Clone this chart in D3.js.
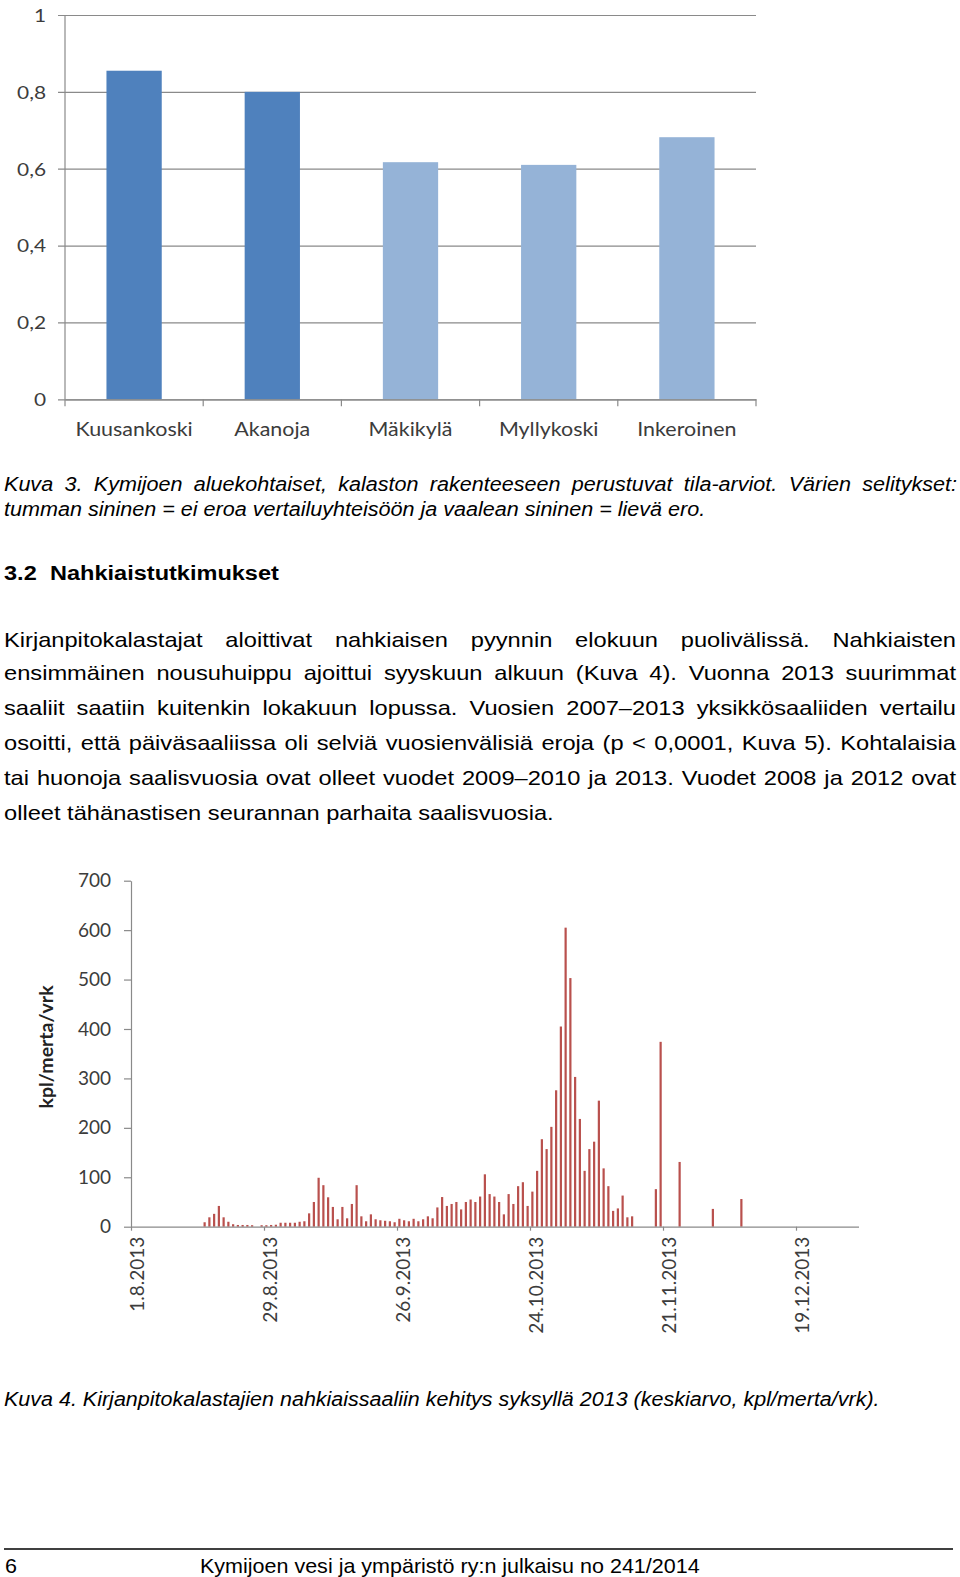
<!DOCTYPE html>
<html>
<head>
<meta charset="utf-8">
<script src="https://cdn.jsdelivr.net/npm/d3@7"></script>
<style>
  html, body { margin: 0; padding: 0; background: #fff; }
  svg { display: block; }
</style>
</head>
<body>
<svg id="page" width="960" height="1577"></svg>
<script>
// ---------------- DATA ----------------
// Figure 3: status estimates by area
const areaNames = ["Kuusankoski", "Akanoja", "Mäkikylä", "Myllykoski", "Inkeroinen"];
const areaValues = [0.855, 0.80, 0.617, 0.61, 0.682];
const areaClass = ["dark", "dark", "light", "light", "light"]; // dark = ei eroa, light = lievä ero
const areaTicks = [0, 0.2, 0.4, 0.6, 0.8, 1];

// Figure 4: daily lamprey catch (kpl/merta/vrk), one value per day from catchStart, null = no catch record
const catchStart = "2013-08-16";
const dailyCatch = [
  9, 19, 26, 42, 19, 10, 5, 3.5, 3.5, 3.5, 3, null, 3, 3, 3.5, 4,          // 16.8 - 31.8
  8, 8, 8, 8, 10, 11, 27, 50, 99, 84, 59.5, 40, 15, 40, 17, 46,            // 1.9 - 16.9
  84, 21, 11, 25, 15, 13, 12, 11, 9, 16, 13, 11, 16, 11,                   // 17.9 - 30.9
  15, 21, 17, 39, 60, 42, 46, 50, 35, 50, 55, 50, 61, 106, 66, 61,         // 1.10 - 16.10
  50, 25, 66, 46, 82, 90, 42, 71, 113, 177, 157, 202, 276, 405, 605,       // 17.10 - 31.10
  503, 303, 218, 113, 157, 172, 255, 118, 82, 32, 37, 63, 19, 21,          // 1.11 - 14.11
  null, null, null, null, 76, 374, null, null, null, 131,                  // 15.11 - 24.11
  null, null, null, null, null, null, 36, null, null, null, null, null, 56 // 25.11 - 7.12
];
const catchAxisStart = "2013-08-01";
const catchAxisEnd = "2014-01-01";
const catchTickStepDays = 28;
const catchTicks = [0, 100, 200, 300, 400, 500, 600, 700];

// Texts
const caption3Lines = [
  "Kuva 3. Kymijoen aluekohtaiset, kalaston rakenteeseen perustuvat tila-arviot. Värien selitykset:",
  "tumman sininen = ei eroa vertailuyhteisöön ja vaalean sininen = lievä ero."
];
const headingNum = "3.2";
const headingText = "Nahkiaistutkimukset";
const paragraphLines = [
  "Kirjanpitokalastajat aloittivat nahkiaisen pyynnin elokuun puolivälissä. Nahkiaisten",
  "ensimmäinen nousuhuippu ajoittui syyskuun alkuun (Kuva 4). Vuonna 2013 suurimmat",
  "saaliit saatiin kuitenkin lokakuun lopussa. Vuosien 2007–2013 yksikkösaaliiden vertailu",
  "osoitti, että päiväsaaliissa oli selviä vuosienvälisiä eroja (p < 0,0001, Kuva 5). Kohtalaisia",
  "tai huonoja saalisvuosia ovat olleet vuodet 2009–2010 ja 2013. Vuodet 2008 ja 2012 ovat",
  "olleet tähänastisen seurannan parhaita saalisvuosia."
];
const caption4 = "Kuva 4. Kirjanpitokalastajien nahkiaissaaliin kehitys syksyllä 2013 (keskiarvo, kpl/merta/vrk).";
const pageNumber = "6";
const footerText = "Kymijoen vesi ja ympäristö ry:n julkaisu no 241/2014";
const yTitle4 = "kpl/merta/vrk";

// ---------------- DRAW ----------------
const svg = d3.select("#page");
const chartFont = "Lato, 'Open Sans', sans-serif";
const textFont = "'Liberation Sans', Arial, sans-serif";

// ===== Figure 3 =====
(function () {
  const left = 65, right = 756, top = 15, bottom = 399.3;
  const SX = 1.16;
  const g = svg.append("g");
  const x = d3.scaleBand().domain(areaNames).range([left, right]).paddingInner(0.6).paddingOuter(0.3);
  const y = d3.scaleLinear().domain([0, 1]).range([bottom, top]);

  // gridlines + y labels
  const yAxis = d3.axisLeft(y).tickValues(areaTicks).tickSize(-(right - left)).tickSizeOuter(0)
    .tickFormat(d => d === 0 ? "0" : d === 1 ? "1" : d3.format(".1f")(d).replace(".", ","));
  const ya = g.append("g").attr("transform", `translate(${left},0)`).call(yAxis);
  ya.select(".domain").remove();
  ya.selectAll(".tick line").attr("stroke", "#8a8a8a").attr("stroke-width", 1.2).attr("x1", -7);
  ya.selectAll(".tick text")
    .attr("x", 0).attr("dy", "0.35em")
    .attr("transform", `translate(-19,0) scale(${SX},1)`)
    .attr("font-family", chartFont).attr("font-size", 18).attr("fill", "#3c3c3c");

  // vertical axis line
  g.append("line").attr("x1", left).attr("x2", left).attr("y1", top).attr("y2", bottom)
    .attr("stroke", "#8a8a8a").attr("stroke-width", 1.2);

  // bars
  g.selectAll("rect.bar").data(areaNames).join("rect")
    .attr("x", d => x(d)).attr("width", x.bandwidth())
    .attr("y", (d, i) => y(areaValues[i])).attr("height", (d, i) => bottom - y(areaValues[i]))
    .attr("fill", (d, i) => areaClass[i] === "dark" ? "#4f81bd" : "#95b3d7");

  // x axis
  const xAxis = d3.axisBottom(x).tickSize(0).tickSizeOuter(0);
  const xa = g.append("g").attr("transform", `translate(0,${bottom})`).call(xAxis);
  xa.select(".domain").attr("stroke", "#8a8a8a").attr("stroke-width", 1.2);
  xa.selectAll(".tick text")
    .attr("y", 0).attr("dy", 0)
    .attr("transform", `translate(0,37) scale(${SX},1)`)
    .attr("font-family", chartFont).attr("font-size", 18.5).attr("fill", "#3c3c3c");
  // category boundary ticks
  const bounds = d3.range(areaNames.length + 1).map(i => left + i * x.step());
  g.selectAll("line.cb").data(bounds).join("line")
    .attr("x1", d => d).attr("x2", d => d).attr("y1", bottom).attr("y2", bottom + 7)
    .attr("stroke", "#8a8a8a").attr("stroke-width", 1.2);
})();

// ===== Figure 4 =====
(function () {
  const left = 131, top = 880.7, bottom = 1226.7, axisRight = 859;
  const parse = d3.utcParse("%Y-%m-%d");
  const t0 = parse(catchAxisStart), t1 = parse(catchAxisEnd);
  const nDays = d3.utcDay.count(t0, t1);
  const x = d3.scaleUtc().domain([t0, t1]).range([left, left + nDays * 4.75]);
  const y = d3.scaleLinear().domain([0, 700]).range([bottom, top]);
  const g = svg.append("g");

  const start = parse(catchStart);
  const rows = dailyCatch.map((v, i) => ({ date: d3.utcDay.offset(start, i), v }))
    .filter(r => r.v !== null);
  const halfDay = x(d3.utcHour.offset(t0, 12)) - x(t0);

  g.selectAll("rect.cb").data(rows).join("rect")
    .attr("x", d => x(d.date) + halfDay - 1.1).attr("width", 2.2)
    .attr("y", d => y(d.v)).attr("height", d => bottom - y(d.v))
    .attr("fill", "#b9504d");

  // y axis
  const ya = g.append("g").attr("transform", `translate(${left},0)`)
    .call(d3.axisLeft(y).tickValues(catchTicks).tickSize(7).tickSizeOuter(0).tickPadding(13));
  ya.select(".domain").attr("stroke", "#8a8a8a").attr("stroke-width", 1.2);
  ya.selectAll(".tick line").attr("stroke", "#8a8a8a").attr("stroke-width", 1.2);
  ya.selectAll(".tick text").attr("font-family", chartFont).attr("font-size", 19).attr("fill", "#3c3c3c");

  // x axis
  const tickDates = d3.range(0, nDays, catchTickStepDays).map(d => d3.utcDay.offset(t0, d));
  const xa = g.append("g").attr("transform", `translate(0,${bottom})`)
    .call(d3.axisBottom(x).tickValues(tickDates).tickSize(4).tickSizeOuter(0)
      .tickFormat(d3.utcFormat("%-d.%-m.%Y")));
  xa.select(".domain").attr("d", `M${left},0.5H${axisRight}`).attr("stroke", "#8a8a8a").attr("stroke-width", 1.2);
  xa.selectAll(".tick line").attr("stroke", "#8a8a8a").attr("stroke-width", 1.2);
  xa.selectAll(".tick text")
    .attr("transform", "rotate(-90)")
    .attr("text-anchor", "end")
    .attr("x", -10).attr("y", 0).attr("dy", 12)
    .attr("font-family", chartFont).attr("font-size", 19).attr("fill", "#3c3c3c");

  // y title
  g.append("text").attr("transform", "translate(53,1047) rotate(-90)")
    .attr("text-anchor", "middle")
    .attr("font-family", chartFont).attr("font-weight", "bold").attr("font-size", 19.5)
    .attr("fill", "#222").text(yTitle4);
})();

// ===== Page text =====
function makeText(str, opts) {
  const t = svg.append("text")
    .attr("x", 0).attr("y", 0)
    .attr("font-family", textFont)
    .attr("font-size", opts.size)
    .attr("font-style", opts.italic ? "italic" : "normal")
    .attr("font-weight", opts.bold ? "bold" : "normal")
    .attr("fill", "#000")
    .text(str);
  return t;
}
function block(lines, opts) {
  // opts: x0, baselines[], ends[] (null = justified to justifyEnd), refIndex
  const els = lines.map(s => makeText(s, opts));
  const ref = opts.refIndex;
  const refW = els[ref].node().getComputedTextLength();
  const sx = (opts.ends[ref] - opts.x0) / refW;
  els.forEach((t, i) => {
    t.attr("transform", `translate(${opts.x0},${opts.baselines[i]}) scale(${sx},1)`);
    if (opts.ends[i] === null) {
      const w = t.node().getComputedTextLength();
      const n = (lines[i].match(/ /g) || []).length;
      const ws = ((opts.justifyEnd - opts.x0) / sx - w) / n;
      t.attr("word-spacing", ws);
    }
  });
  return sx;
}

block(caption3Lines, { size: 19.5, italic: true, x0: 4, baselines: [491, 516], ends: [null, 706], justifyEnd: 957, refIndex: 1 });

const hsx = block([headingText], { size: 21, bold: true, x0: 50, baselines: [580], ends: [279], refIndex: 0 });
makeText(headingNum, { size: 21, bold: true }).attr("transform", `translate(4,580) scale(${hsx},1)`);

block(paragraphLines, { size: 20.5, x0: 4, baselines: [647, 680, 715, 750, 785, 820], ends: [null, null, null, null, null, 554], justifyEnd: 956, refIndex: 5 });

block([caption4], { size: 19.5, italic: true, x0: 4, baselines: [1406], ends: [880], refIndex: 0 });

svg.append("line").attr("x1", 4).attr("x2", 953).attr("y1", 1549).attr("y2", 1549)
  .attr("stroke", "#000").attr("stroke-width", 1.3);
const fsx = block([footerText], { size: 20.5, x0: 200, baselines: [1573], ends: [700], refIndex: 0 });
makeText(pageNumber, { size: 20.5 }).attr("transform", `translate(5,1573) scale(${fsx},1)`);
</script>
</body>
</html>
